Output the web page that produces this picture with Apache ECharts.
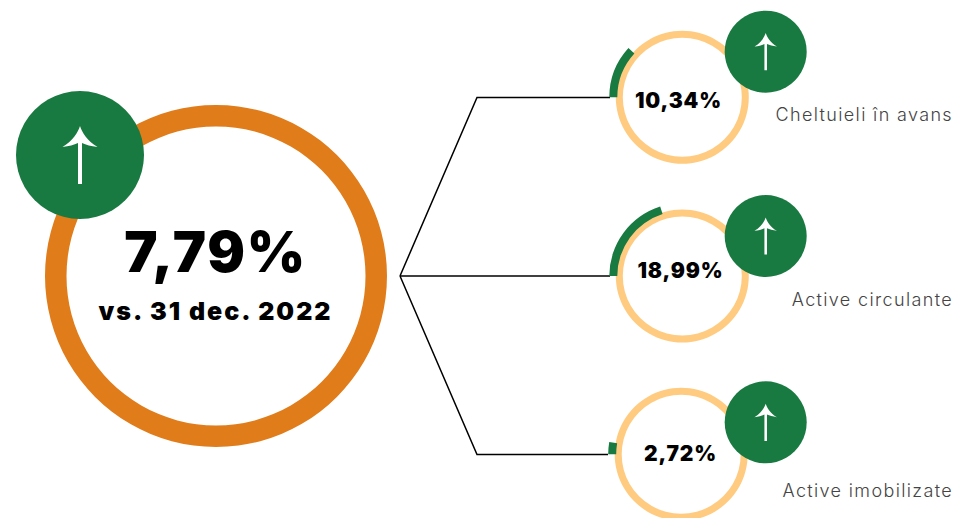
<!DOCTYPE html>
<html>
<head>
<meta charset="utf-8">
<title>Active</title>
<script src="https://cdn.jsdelivr.net/npm/echarts@6/dist/echarts.min.js"></script>
<style>
  html, body { margin: 0; padding: 0; background: #fff; }
  #chart { width: 953px; height: 518px; }
</style>
</head>
<body>
<div id="chart"></div>
<script>
const totalValue = "7,79%";
const totalCaption = "vs. 31 dec. 2022";
const categories = ["Cheltuieli în avans", "Active circulante", "Active imobilizate"];
const changes = [10.34, 18.99, 2.72];
// length of the green arcs as drawn in the picture, % of the ring
const arcShares = [11.8, 20.1, 2.7];

const GREEN = "#187a40";
const ORANGE = "#e17c1a";
const PEACH = "#ffcb80";
const FONT = "Inter";

// arrow with the swept head, drawn for the big badge and scaled down for the small ones
echarts.graphic.registerShape("upArrow", echarts.graphic.extendShape({
  buildPath: function (ctx) {
    ctx.moveTo(0, -29);
    ctx.bezierCurveTo(2, -23, 7, -14, 17.5, -8);
    ctx.bezierCurveTo(11, -9, 6, -10, 2, -12);
    ctx.lineTo(2, 29);
    ctx.lineTo(-2, 29);
    ctx.lineTo(-2, -12);
    ctx.bezierCurveTo(-6, -10, -11, -9, -17.5, -8);
    ctx.bezierCurveTo(-7, -14, -2, -23, 0, -29);
    ctx.closePath();
  }
}));

// layout of the three small rings
const rings = [
  { cx: 682.3, cy: 97.3, textX: 678.5, textY: 100.5, labelY: 114.5 },
  { cx: 682.3, cy: 276, textX: 680.5, textY: 270, labelY: 299 },
  { cx: 681.2, cy: 454.3, textX: 680.5, textY: 453.5, labelY: 490.5 }
];
const badgeCy = [51.7, 236, 422.3];

function fmt(v) {
  return v.toFixed(2).replace(".", ",") + "%";
}

function ringPie(center, radius, color) {
  return {
    type: "pie",
    silent: true,
    center: center,
    radius: radius,
    label: { show: false },
    labelLine: { show: false },
    emphasis: { disabled: true },
    animation: false,
    itemStyle: { color: color },
    data: [100]
  };
}

const series = [ringPie([216, 276], [149.5, 171], ORANGE)];
rings.forEach(function (r, i) {
  series.push(ringPie([r.cx, r.cy], [59.5, 66.5], PEACH));
  series.push({
    type: "pie",
    silent: true,
    center: [r.cx, r.cy],
    radius: [65, 73],
    startAngle: 180,
    clockwise: true,
    avoidLabelOverlap: false,
    label: { show: false },
    labelLine: { show: false },
    emphasis: { disabled: true },
    animation: false,
    z: 3,
    data: [
      { value: arcShares[i], itemStyle: { color: GREEN } },
      { value: 100 - arcShares[i], itemStyle: { color: "rgba(0,0,0,0)" } }
    ]
  });
});

function connector(points) {
  return {
    type: "polyline",
    z: 1,
    shape: { points: points },
    style: { stroke: "#000", lineWidth: 1.5, fill: null }
  };
}

function badge(x, y, r) {
  return [
    { type: "circle", z: 10, shape: { cx: x, cy: y, r: r }, style: { fill: GREEN } },
    { type: "upArrow", z: 11, x: x, y: y, scaleX: r / 64, scaleY: r / 64, style: { fill: "#fff" } }
  ];
}

function text(x, y, str, size, weight, color, align) {
  return {
    type: "text",
    z: 12,
    x: x,
    y: y,
    style: {
      text: str,
      font: weight + " " + size + "px " + FONT + ", sans-serif",
      fill: color,
      align: align || "center",
      verticalAlign: "middle"
    }
  };
}

let elements = [
  connector([[400, 276], [477, 97.5], [610, 97.5]]),
  connector([[400, 276], [610, 276]]),
  connector([[400, 276], [477, 454.5], [608, 454.5]]),
  text(215.5, 252, totalValue, 56, 900, "#000"),
  text(215.5, 311, totalCaption, 25, 900, "#000")
].concat(badge(80, 155, 64));

rings.forEach(function (r, i) {
  elements = elements.concat(badge(765.7, badgeCy[i], 41));
  elements.push(text(r.textX, r.textY, fmt(changes[i]), 21, 900, "#000"));
  elements.push(text(953, r.labelY, categories[i], 18, 300, "#444", "right"));
});

const chart = echarts.init(document.getElementById("chart"), null, { renderer: "svg" });
chart.setOption({
  animation: false,
  backgroundColor: "#fff",
  series: series,
  graphic: { elements: elements }
});

// the original text is tracked out a bit, svg text takes this from css
document.querySelectorAll("#chart text").forEach(function (el) {
  const t = el.textContent;
  let spacing = "0.04em";
  if (t === totalValue) spacing = "0.03em";
  if (t === totalCaption) spacing = "0.08em";
  if (categories.indexOf(t) >= 0) spacing = "0.075em";
  el.style.letterSpacing = spacing;
});
</script>
</body>
</html>
